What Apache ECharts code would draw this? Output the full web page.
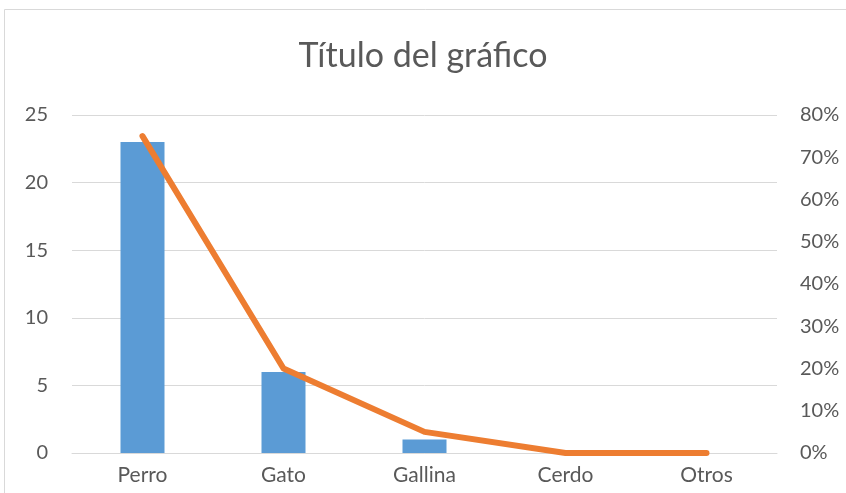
<!doctype html>
<html lang="es">
<head>
    <meta charset="utf-8">
    <title>Título del gráfico</title>
    <script src="https://cdn.jsdelivr.net/npm/echarts@6/dist/echarts.min.js"></script>
    <style>
        html, body { margin: 0; padding: 0; background: #fff; }
        #chart { width: 846px; height: 493px; }
    </style>
</head>
<body>
    <div id="chart"></div>
    <script type="text/javascript">
        var categorias = ['Perro', 'Gato', 'Gallina', 'Cerdo', 'Otros'];
        var cantidades = [23, 6, 1, 0, 0];
        var porcentajes = [0.75, 0.20, 0.05, 0, 0];

        var fuente = 'Lato, "Open Sans", sans-serif';
        var chart = echarts.init(document.getElementById('chart'));
        var option = {
            animation: false,
            graphic: [{
                type: 'rect',
                shape: { x: 4.5, y: 9.5, width: 860, height: 500 },
                style: { fill: 'none', stroke: '#d9d9d9', lineWidth: 1 },
                silent: true
            }],
            title: {
                text: 'Título del gráfico',
                left: 'center',
                top: 34,
                textStyle: { fontFamily: fuente, fontSize: 34, fontWeight: 'normal', color: '#595959' }
            },
            grid: { left: 72, right: 69, top: 115, bottom: 40 },
            xAxis: {
                type: 'category',
                data: categorias,
                axisLine: { lineStyle: { color: '#d9d9d9', width: 1 } },
                axisTick: { show: false },
                axisLabel: { color: '#595959', fontFamily: fuente, fontSize: 21, margin: 12 }
            },
            yAxis: [{
                type: 'value',
                min: 0, max: 25, interval: 5,
                axisLine: { show: false },
                axisTick: { show: false },
                axisLabel: { color: '#595959', fontFamily: fuente, fontSize: 20, margin: 24 },
                splitLine: { lineStyle: { color: '#d9d9d9', width: 1 } }
            }, {
                type: 'value',
                min: 0, max: 0.8, interval: 0.1,
                axisLine: { show: false },
                axisTick: { show: false },
                splitLine: { show: false },
                axisLabel: {
                    color: '#595959', fontFamily: fuente, fontSize: 20, margin: 23,
                    formatter: function (v) { return Math.round(v * 100) + '%'; }
                }
            }],
            series: [{
                type: 'bar',
                data: cantidades,
                barWidth: 44,
                itemStyle: { color: '#5b9bd5' }
            }, {
                type: 'line',
                yAxisIndex: 1,
                data: porcentajes,
                symbol: 'none',
                lineStyle: { color: '#ed7d31', width: 6, cap: 'round', join: 'round' }
            }]
        };
        chart.setOption(option);
    </script>
</body>
</html>
